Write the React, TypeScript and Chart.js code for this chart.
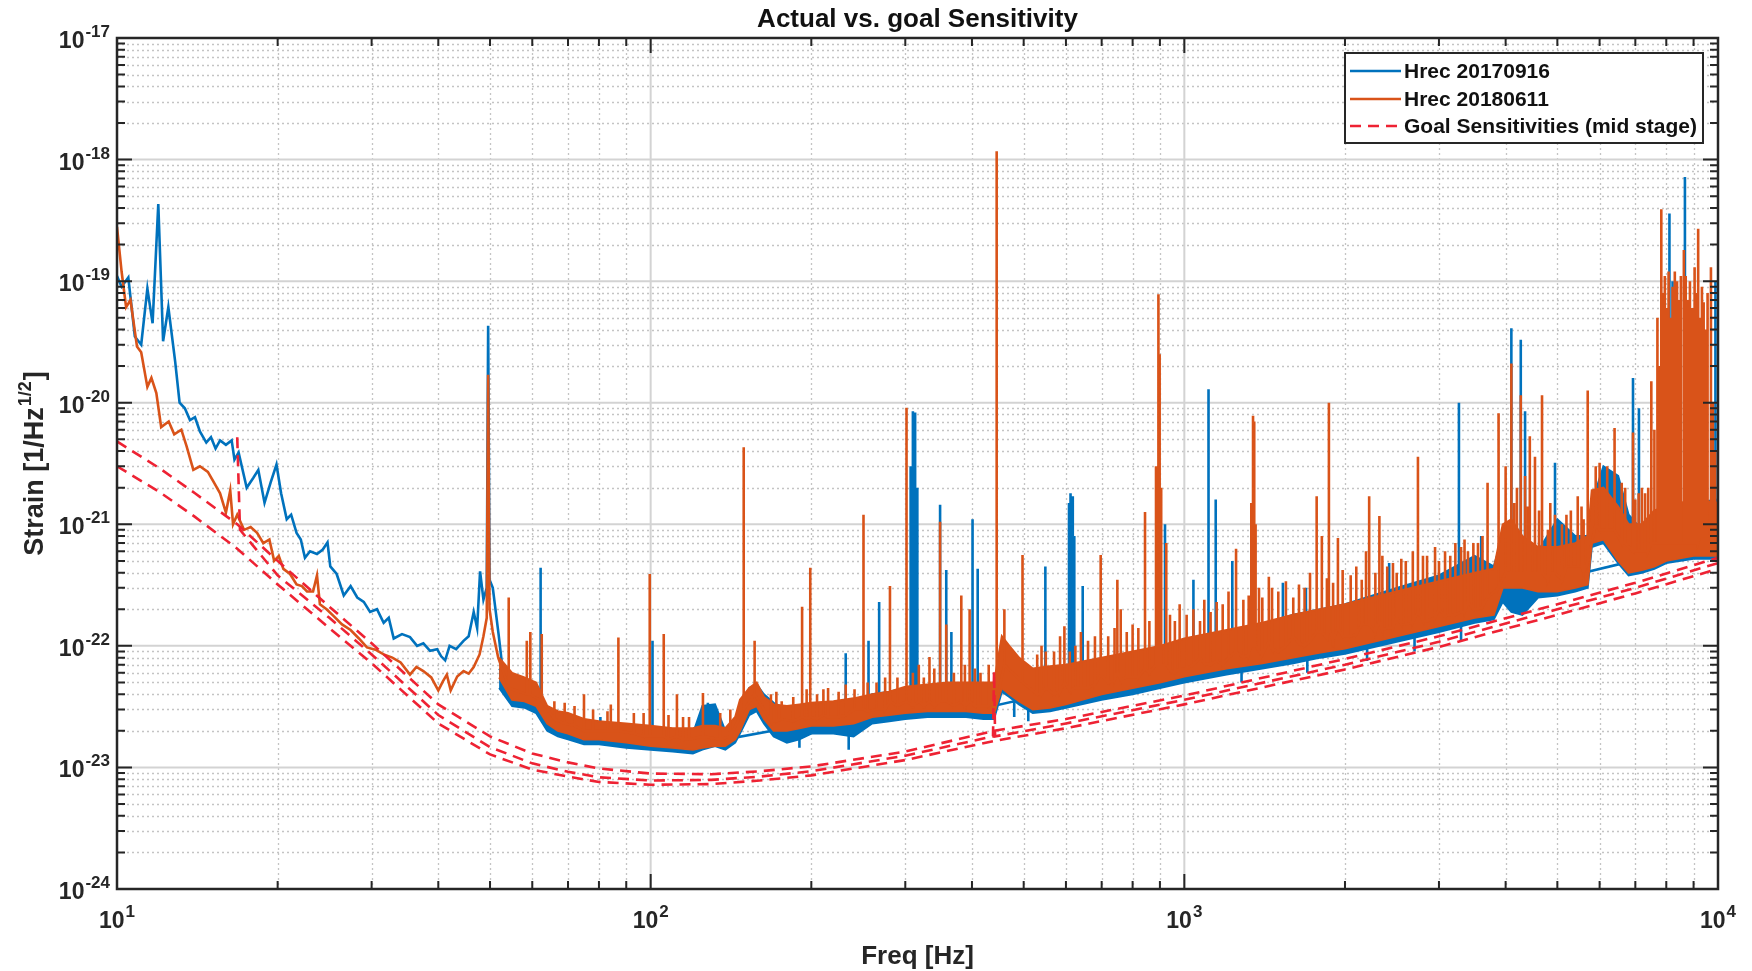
import React, { useEffect, useRef } from "react";
import { Chart, registerables } from "chart.js";

Chart.register(...registerables);

const BLUE = "#0072BD";
const ORANGE = "#D95319";
const RED = "#EE2233";
const AXIS = "#262626";
const FONT = "'Liberation Sans', Arial, Helvetica, sans-serif";

const titleText = "Actual vs. goal Sensitivity";
const xTitle = "Freq [Hz]";
const yTitleMain = "Strain [1/Hz";
const yTitleSup = "1/2";
const yTitleEnd = "]";
const legendLabels = ["Hrec 20170916", "Hrec 20180611", "Goal Sensitivities (mid stage)"];

const xMajorTicks = [10, 100, 1000, 10000];
const xTickExponents = ["1", "2", "3", "4"];
const yMajorTicks = [1e-24, 1e-23, 1e-22, 1e-21, 1e-20, 1e-19, 1e-18, 1e-17];
const yTickExponents = ["-24", "-23", "-22", "-21", "-20", "-19", "-18", "-17"];
const minorMultipliers = [2, 3, 4, 5, 6, 7, 8, 9];

// Hrec 20170916, low-frequency trace [Hz, strain]
const blueLow: [number, number][] = [
  [10.0, 1.1e-19], [10.2, 9.0e-20], [10.5, 1.07e-19], [10.8, 3.5e-20], [11.1, 3.0e-20], [11.4, 8.7e-20],
  [11.66, 4.5e-20], [11.95, 4.3e-19], [12.2, 3.2e-20], [12.48, 6.1e-20], [12.85, 2.2e-20], [13.1, 1.0e-20],
  [13.4, 9.0e-21], [13.7, 7.2e-21], [14.0, 7.6e-21], [14.3, 5.8e-21], [14.7, 4.7e-21], [15.0, 5.2e-21],
  [15.3, 4.2e-21], [15.6, 4.9e-21], [16.0, 4.5e-21], [16.4, 4.9e-21], [16.6, 3.4e-21], [16.9, 3.9e-21],
  [17.5, 2.0e-21], [18.0, 2.4e-21], [18.4, 2.8e-21], [18.9, 1.5e-21], [19.4, 2.2e-21], [19.9, 3.1e-21],
  [20.3, 1.8e-21], [20.8, 1.1e-21], [21.2, 1.2e-21], [21.7, 8.5e-22], [22.1, 7.5e-22], [22.5, 5.3e-22],
  [23.0, 6.0e-22], [23.7, 5.7e-22], [24.3, 6.2e-22], [24.8, 7.1e-22], [25.1, 4.5e-22], [25.8, 3.9e-22],
  [26.6, 2.6e-22], [27.4, 3.1e-22], [28.2, 2.5e-22], [29.0, 2.3e-22], [29.8, 1.9e-22], [30.7, 2.0e-22],
  [31.6, 1.55e-22], [32.3, 1.7e-22], [33.0, 1.15e-22], [34.2, 1.25e-22], [35.4, 1.18e-22], [36.5, 1.0e-22],
  [37.5, 1.05e-22], [38.6, 9.1e-23], [39.8, 9.4e-23], [40.5, 8.2e-23], [41.2, 7.6e-23], [42.0, 1.0e-22],
  [43.2, 9.4e-23], [44.6, 1.1e-22], [45.6, 1.2e-22], [46.6, 1.9e-22], [47.3, 1.4e-22], [47.9, 4.1e-22],
  [48.6, 2.4e-22], [49.3, 3.0e-22], [49.6, 4.3e-20], [49.9, 3.5e-22], [50.6, 3.0e-22], [51.9, 1.23e-22],
  [53.0, 5.5e-23],
];

// Hrec 20180611, low-frequency trace [Hz, strain]
const orangeLow: [number, number][] = [
  [10.0, 2.8e-19], [10.2, 1.2e-19], [10.4, 6.1e-20], [10.6, 7.0e-20], [10.9, 2.9e-20], [11.1, 2.6e-20],
  [11.4, 1.35e-20], [11.6, 1.6e-20], [11.85, 1.2e-20], [12.1, 6.3e-21], [12.5, 7.0e-21], [12.8, 5.5e-21],
  [13.2, 6.0e-21], [13.5, 4.4e-21], [13.9, 2.8e-21], [14.3, 3.0e-21], [14.8, 2.7e-21], [15.2, 2.2e-21],
  [15.6, 1.8e-21], [16.0, 1.25e-21], [16.3, 1.9e-21], [16.5, 1.0e-21], [16.8, 1.2e-21], [17.3, 9.0e-22],
  [17.8, 9.5e-22], [18.3, 8.5e-22], [18.8, 7.0e-22], [19.3, 7.5e-22], [19.7, 5.0e-22], [20.1, 5.5e-22],
  [20.5, 4.3e-22], [21.1, 3.9e-22], [21.7, 3.2e-22], [22.2, 3.1e-22], [22.7, 2.8e-22], [23.3, 2.8e-22],
  [23.7, 3.8e-22], [24.0, 2.2e-22], [24.7, 2.0e-22], [25.5, 1.75e-22], [26.4, 1.5e-22], [27.4, 1.35e-22],
  [28.4, 1.15e-22], [29.4, 9.7e-23], [30.5, 9.3e-23], [31.6, 8.5e-23], [32.8, 8.0e-23], [34.0, 7.3e-23],
  [35.4, 5.8e-23], [36.4, 6.7e-23], [37.5, 6.2e-23], [38.8, 5.5e-23], [40.0, 4.3e-23], [40.8, 5.1e-23],
  [41.5, 5.8e-23], [42.2, 4.3e-23], [43.4, 5.6e-23], [44.6, 6.2e-23], [45.6, 5.9e-23], [46.6, 6.7e-23],
  [47.8, 8.5e-23], [48.6, 1.2e-22], [49.3, 1.7e-22], [49.6, 1.7e-20], [49.9, 2.0e-22], [50.6, 1.3e-22],
  [51.8, 8.0e-23], [53.0, 6.0e-23],
];

// strong spectral lines: [Hz, floor, peak]
const orangeSpikes: [number, number, number][] = [
  [54.2, 4.5e-23, 2.5e-22], [58.6, 4.0e-23, 1.1e-22], [59.5, 4.0e-23, 1.3e-22], [62.5, 3.5e-23, 1.25e-22],
  [75, 2.0e-23, 4.0e-23], [84.2, 2.0e-23, 3.3e-23], [87.0, 2.0e-23, 1.17e-22], [99.6, 1.8e-23, 3.9e-22],
  [105.8, 1.8e-23, 1.25e-22], [112, 1.8e-23, 4.0e-23], [125.3, 1.8e-23, 4.1e-23], [149.4, 3.0e-23, 4.3e-21],
  [156.6, 4.0e-23, 1.1e-22], [176, 2.5e-23, 3.5e-23], [192.2, 2.6e-23, 2.1e-22], [199.1, 2.6e-23, 4.4e-22],
  [210.7, 2.7e-23, 4.4e-23], [241, 3.0e-23, 4.4e-23], [250.5, 3.0e-23, 1.2e-21], [280.8, 3.5e-23, 3.1e-22],
  [301.6, 3.5e-23, 9.1e-21], [318, 3.5e-23, 7.0e-23], [333, 3.5e-23, 8.1e-23], [348.6, 3.5e-23, 1.05e-21],
  [358, 3.5e-23, 1.5e-22], [382, 3.5e-23, 2.6e-22], [396, 3.5e-23, 2.0e-22], [445, 3.5e-23, 1.17e-18],
  [460, 7.0e-23, 2.0e-22], [497.5, 5.0e-23, 5.6e-22], [550, 4.5e-23, 9.0e-23], [596, 5.0e-23, 1.45e-22],
  [697, 5.8e-23, 5.6e-22], [749, 6.0e-23, 3.5e-22], [844, 6.5e-23, 1.26e-21], [885, 7.0e-23, 3.0e-21],
  [893, 7.0e-23, 2.8e-20], [895, 7.0e-23, 7.8e-20], [899, 7.0e-23, 2.5e-20], [905, 7.0e-23, 2.0e-21],
  [925, 7.0e-23, 7.0e-22], [1070, 8.0e-23, 1.6e-22], [1250, 9.0e-23, 6.3e-22], [1335, 1.0e-22, 1.5e-21],
  [1345, 1.0e-22, 7.8e-21], [1352, 1.0e-22, 7.0e-21], [1360, 1.0e-22, 1.0e-21], [1440, 1.1e-22, 3.7e-22],
  [1600, 1.2e-22, 2.5e-22], [1770, 1.3e-22, 1.7e-21], [1810, 1.3e-22, 8.0e-22], [1866, 1.4e-22, 1.0e-20],
  [1940, 1.4e-22, 7.7e-22], [2150, 1.5e-22, 3.5e-22], [2190, 1.5e-22, 6.0e-22], [2220, 1.5e-22, 1.7e-21],
  [2320, 1.6e-22, 1.17e-21], [2500, 1.7e-22, 4.0e-22], [2740, 1.9e-22, 3.6e-21], [3000, 2.0e-22, 5.0e-22],
  [3400, 2.3e-22, 6.0e-22], [3700, 2.5e-22, 2.2e-21], [3880, 3.0e-22, 8.2e-21], [4000, 4.0e-22, 3.0e-21],
  [4100, 4.0e-22, 2.1e-20], [4200, 4.0e-22, 2.0e-21], [4270, 4.0e-22, 1.15e-20], [4350, 4.0e-22, 2.5e-21],
  [4440, 4.0e-22, 5.3e-21], [4540, 4.0e-22, 3.6e-21], [4680, 4.0e-22, 1.15e-20], [4850, 4.0e-22, 1.5e-21],
  [5200, 4.5e-22, 1.2e-21], [5460, 4.5e-22, 1.7e-21], [5700, 5.0e-22, 1.26e-20], [5900, 1.0e-21, 3.0e-21],
  [6400, 9.0e-22, 6.2e-21], [6700, 7.0e-22, 2.0e-21], [6930, 6.0e-22, 5.7e-21], [7200, 6.0e-22, 2.0e-21],
  [7400, 6.0e-22, 2.0e-21], [7500, 7.0e-22, 1.5e-20], [7600, 7.0e-22, 6.0e-21], [7700, 7.0e-22, 5.0e-20],
  [7770, 7.0e-22, 2.0e-20], [7830, 7.0e-22, 3.9e-19], [7890, 7.0e-22, 8.0e-20], [7950, 7.0e-22, 1.1e-19],
  [8010, 7.0e-22, 6.0e-20], [8080, 7.0e-22, 1.2e-19], [8150, 7.0e-22, 5.0e-20], [8220, 7.0e-22, 9.0e-20],
  [8300, 7.0e-22, 1.2e-19], [8380, 7.0e-22, 1.0e-19], [8450, 7.0e-22, 7.0e-20], [8520, 7.0e-22, 1.1e-19],
  [8630, 7.0e-22, 1.8e-19], [8700, 7.0e-22, 1.1e-19], [8780, 7.0e-22, 7.0e-20], [8860, 7.0e-22, 1.0e-19],
  [8950, 7.0e-22, 6.0e-20], [9040, 7.0e-22, 1.3e-19], [9110, 7.0e-22, 8.0e-20], [9180, 7.0e-22, 2.7e-19],
  [9260, 8.0e-22, 5.0e-20], [9330, 8.0e-22, 9.0e-20], [9400, 8.0e-22, 6.7e-20], [9480, 8.0e-22, 4.0e-20],
  [9560, 8.0e-22, 8.0e-20], [9700, 8.0e-22, 1.3e-19], [9780, 8.0e-22, 1.0e-20], [9880, 8.0e-22, 4.0e-21],
  [10000, 8.0e-22, 1.5e-21],
];

// small lines riding on the noise floor: [Hz, floor, peak]
const orangeMinorLines: [number, number, number][] = [
  [66, 2.5e-23, 3.5e-23], [69, 2.3e-23, 3.4e-23], [72, 2.2e-23, 3.2e-23], [78, 2.0e-23, 3.0e-23],
  [83, 2.0e-23, 2.9e-23], [93, 1.9e-23, 2.8e-23], [97, 1.8e-23, 2.8e-23], [108, 1.7e-23, 2.7e-23],
  [115, 1.7e-23, 2.6e-23], [118, 1.7e-23, 2.6e-23], [135, 1.7e-23, 2.8e-23], [141, 1.8e-23, 3.0e-23],
  [168, 2.4e-23, 4.0e-23], [172, 2.4e-23, 4.2e-23], [185, 2.4e-23, 3.8e-23], [196, 2.5e-23, 4.4e-23],
  [205, 2.5e-23, 4.0e-23], [215, 2.6e-23, 4.5e-23], [225, 2.6e-23, 4.2e-23], [232, 2.7e-23, 4.8e-23],
  [255, 2.9e-23, 5.0e-23], [265, 3.0e-23, 5.0e-23], [275, 3.0e-23, 5.5e-23], [290, 3.2e-23, 5.5e-23],
  [310, 3.2e-23, 6.0e-23], [325, 3.2e-23, 5.5e-23], [340, 3.2e-23, 6.5e-23], [370, 3.2e-23, 6.0e-23],
  [388, 3.2e-23, 7.0e-23], [405, 3.2e-23, 6.5e-23], [415, 3.2e-23, 6.0e-23], [430, 3.2e-23, 7.0e-23],
  [530, 4.0e-23, 8.5e-23], [540, 4.0e-23, 1.0e-22], [570, 4.0e-23, 9.0e-23], [585, 4.2e-23, 1.2e-22],
  [610, 4.3e-23, 9.0e-23], [625, 4.5e-23, 1.0e-22], [640, 4.5e-23, 1.3e-22], [660, 4.5e-23, 1.1e-22],
  [680, 4.8e-23, 1.2e-22], [720, 5.0e-23, 1.2e-22], [740, 5.2e-23, 1.4e-22], [760, 5.3e-23, 2.0e-22],
  [780, 5.5e-23, 1.3e-22], [800, 5.5e-23, 1.5e-22], [820, 5.5e-23, 1.4e-22], [860, 6.0e-23, 1.6e-22],
  [940, 6.3e-23, 1.8e-22], [960, 6.0e-23, 1.6e-22], [980, 6.5e-23, 2.2e-22], [1010, 6.5e-23, 1.8e-22],
  [1040, 7.0e-23, 2.0e-22], [1090, 7.2e-23, 2.4e-22], [1120, 7.0e-23, 1.9e-22], [1150, 7.5e-23, 2.3e-22],
  [1180, 7.0e-23, 2.2e-22], [1210, 8.0e-23, 2.8e-22], [1290, 8.0e-23, 2.4e-22], [1320, 8.5e-23, 2.6e-22],
  [1380, 9.0e-23, 3.0e-22], [1400, 8.5e-23, 2.5e-22], [1460, 9.5e-23, 3.0e-22], [1500, 9.0e-23, 2.8e-22],
  [1550, 1.0e-22, 3.4e-22], [1640, 1.05e-22, 3.2e-22], [1680, 1.0e-22, 3.0e-22], [1720, 1.1e-22, 4.0e-22],
  [1850, 1.15e-22, 3.6e-22], [1900, 1.1e-22, 3.3e-22], [1980, 1.2e-22, 4.2e-22], [2050, 1.2e-22, 3.8e-22],
  [2100, 1.25e-22, 4.5e-22], [2280, 1.3e-22, 4.0e-22], [2350, 1.35e-22, 5.5e-22], [2400, 1.4e-22, 4.5e-22],
  [2460, 1.4e-22, 4.8e-22], [2550, 1.5e-22, 5.2e-22], [2600, 1.5e-22, 5.0e-22], [2680, 1.55e-22, 6.0e-22],
  [2800, 1.6e-22, 5.5e-22], [2850, 1.6e-22, 5.5e-22], [2950, 1.7e-22, 6.5e-22], [3080, 1.75e-22, 6.0e-22],
  [3150, 1.8e-22, 5.5e-22], [3220, 1.8e-22, 7.0e-22], [3300, 1.9e-22, 6.5e-22], [3350, 1.9e-22, 7.5e-22],
  [3480, 2.0e-22, 7.0e-22], [3550, 2.0e-22, 7.0e-22], [3620, 2.1e-22, 8.0e-22], [4150, 4.0e-22, 1.5e-21],
  [4400, 4.0e-22, 1.4e-21], [4620, 4.0e-22, 1.3e-21], [4800, 3.5e-22, 9.0e-22], [4950, 4.0e-22, 1.2e-21],
  [5100, 3.5e-22, 1.0e-21], [5300, 4.5e-22, 1.3e-21], [5550, 4.5e-22, 1.4e-21], [5600, 4.0e-22, 1.1e-21],
  [6000, 9.0e-22, 3.2e-21], [6200, 9.0e-22, 3.0e-21], [6600, 7.0e-22, 2.2e-21], [7000, 6.0e-22, 1.6e-21],
  [7100, 6.0e-22, 1.8e-21], [7300, 6.0e-22, 1.8e-21],
];

const blueSpikes: [number, number, number][] = [
  [62.2, 2.8e-23, 4.4e-22], [80.5, 1.6e-23, 2.6e-23], [100.8, 1.5e-23, 1.1e-22], [128, 1.6e-23, 3.4e-23],
  [190, 2.2e-23, 1.45e-23], [232, 2.2e-23, 8.7e-23], [235, 2.2e-23, 1.4e-23], [256, 2.5e-23, 1.1e-22],
  [268, 2.5e-23, 2.3e-22], [307, 3.0e-23, 3.0e-21], [310, 3.0e-23, 8.5e-21], [313, 3.0e-23, 8.3e-21],
  [316, 3.0e-23, 2.0e-21], [348.6, 3.0e-23, 1.45e-21], [358, 3.0e-23, 4.2e-22], [366, 3.0e-23, 1.3e-22],
  [401, 3.0e-23, 1.1e-21], [410, 3.0e-23, 4.3e-22], [480, 3.5e-23, 2.6e-23], [510, 3.5e-23, 2.4e-23],
  [549, 3.5e-23, 4.5e-22], [608, 4.0e-23, 1.5e-21], [612, 4.0e-23, 1.8e-21], [618, 4.0e-23, 1.7e-21],
  [622, 4.0e-23, 8.0e-22], [645, 4.0e-23, 3.1e-22], [920, 6.0e-23, 1.0e-21], [1040, 6.0e-23, 3.5e-22],
  [1110, 7.0e-23, 1.29e-20], [1145, 7.0e-23, 1.6e-21], [1230, 8.0e-23, 5.0e-22], [1280, 7.0e-23, 5.0e-23],
  [1530, 1.0e-22, 3.3e-22], [1690, 1.1e-22, 3.0e-22], [1700, 8.5e-23, 6.0e-23], [2200, 1.1e-22, 7.5e-23],
  [2420, 1.5e-22, 4.8e-22], [2700, 1.3e-22, 9.0e-23], [3270, 2.0e-22, 1.0e-20], [3300, 1.6e-22, 1.1e-22],
  [3600, 2.2e-22, 8.0e-22], [4100, 3.0e-22, 4.1e-20], [4270, 3.0e-22, 3.3e-20], [4350, 3.0e-22, 8.5e-21],
  [4950, 3.5e-22, 3.2e-21], [6930, 5.0e-22, 1.6e-20], [7110, 5.0e-22, 9.0e-21], [8110, 6.0e-22, 3.6e-19],
  [8220, 6.0e-22, 1.0e-19], [8670, 6.0e-22, 7.2e-19], [9890, 7.0e-22, 1.0e-19],
];

// dense noise floor, upper and lower envelopes
const bandFreq = [
  52, 55, 58, 61, 64, 67, 70, 75, 80, 90, 100, 110, 120, 125, 132, 138, 144, 147, 153, 158,
  163, 170, 180, 190, 200, 220, 240, 260, 280, 300, 330, 360, 390, 420, 440, 455, 470, 490, 520, 560,
  600, 700, 800, 900, 1000, 1200, 1400, 1600, 1800, 2000, 2500, 3000, 3500, 3800, 3950, 4100, 4300, 4600, 5000, 5400,
  5700, 5800, 6100, 6500, 6800, 7200, 7600, 8000, 9000, 10000,
];
const orangeHi = [
  8.0e-23, 6.0e-23, 5.5e-23, 5.0e-23, 3.2e-23, 2.9e-23, 2.8e-23, 2.5e-23, 2.4e-23, 2.3e-23,
  2.2e-23, 2.1e-23, 2.1e-23, 2.2e-23, 2.2e-23, 2.1e-23, 2.6e-23, 3.6e-23, 4.5e-23, 5.0e-23,
  3.8e-23, 3.3e-23, 3.2e-23, 3.3e-23, 3.4e-23, 3.5e-23, 3.7e-23, 4.0e-23, 4.2e-23, 4.6e-23,
  4.8e-23, 5.0e-23, 5.0e-23, 5.0e-23, 5.0e-23, 1.2e-22, 1.0e-22, 8.0e-23, 6.5e-23, 6.8e-23,
  7.0e-23, 8.0e-23, 9.0e-23, 1.0e-22, 1.15e-22, 1.35e-22, 1.55e-22, 1.8e-22, 2.0e-22, 2.2e-22,
  2.8e-22, 3.4e-22, 4.0e-22, 4.3e-22, 1.0e-21, 1.1e-21, 8.0e-22, 6.5e-22, 6.5e-22, 7.0e-22,
  8.0e-22, 1.9e-21, 2.0e-21, 1.4e-21, 1.0e-21, 1.0e-21, 1.3e-21, 1.4e-21, 1.6e-21, 1.5e-21,
];
const orangeLo = [
  5.5e-23, 3.6e-23, 3.5e-23, 3.2e-23, 2.3e-23, 2.0e-23, 1.9e-23, 1.7e-23, 1.7e-23, 1.6e-23,
  1.5e-23, 1.45e-23, 1.4e-23, 1.45e-23, 1.5e-23, 1.5e-23, 1.7e-23, 2.0e-23, 3.0e-23, 3.2e-23,
  2.5e-23, 2.0e-23, 2.0e-23, 2.1e-23, 2.2e-23, 2.2e-23, 2.3e-23, 2.6e-23, 2.7e-23, 2.8e-23,
  2.9e-23, 2.9e-23, 2.9e-23, 2.8e-23, 2.8e-23, 4.5e-23, 4.0e-23, 3.5e-23, 3.0e-23, 3.1e-23,
  3.3e-23, 4.0e-23, 4.5e-23, 5.0e-23, 5.6e-23, 6.5e-23, 7.2e-23, 8.0e-23, 8.8e-23, 9.5e-23,
  1.2e-22, 1.45e-22, 1.7e-22, 1.8e-22, 3.0e-22, 3.0e-22, 3.0e-22, 2.8e-22, 2.8e-22, 3.0e-22,
  3.2e-22, 7.0e-22, 7.5e-22, 5.0e-22, 4.0e-22, 4.2e-22, 4.5e-22, 5.0e-22, 5.5e-22, 5.5e-22,
];
const blueHi = [
  6.5e-23, 4.5e-23, 4.2e-23, 4.0e-23, 3.0e-23, 2.8e-23, 2.6e-23, 2.3e-23, 2.2e-23, 2.1e-23,
  2.0e-23, 1.9e-23, 1.9e-23, 3.2e-23, 3.3e-23, 2.0e-23, 2.4e-23, 3.0e-23, 4.5e-23, 4.8e-23,
  4.0e-23, 3.4e-23, 3.0e-23, 3.0e-23, 3.0e-23, 3.2e-23, 3.4e-23, 4.0e-23, 4.2e-23, 4.5e-23,
  4.6e-23, 4.8e-23, 4.8e-23, 4.6e-23, 4.6e-23, 1.1e-22, 9.0e-23, 7.5e-23, 6.0e-23, 6.0e-23,
  6.5e-23, 7.5e-23, 8.5e-23, 9.5e-23, 1.1e-22, 1.3e-22, 1.5e-22, 1.8e-22, 2.0e-22, 2.2e-22,
  3.0e-22, 3.8e-22, 5.5e-22, 4.5e-22, 8.0e-22, 7.0e-22, 6.0e-22, 6.0e-22, 1.1e-21, 8.0e-22,
  8.0e-22, 1.5e-21, 3.0e-21, 2.5e-21, 1.2e-21, 9.0e-22, 1.0e-21, 1.2e-21, 1.5e-21, 1.6e-21,
];
const blueLo = [
  4.5e-23, 3.2e-23, 3.1e-23, 2.8e-23, 2.0e-23, 1.8e-23, 1.7e-23, 1.55e-23, 1.55e-23, 1.45e-23,
  1.4e-23, 1.35e-23, 1.3e-23, 1.4e-23, 1.5e-23, 1.4e-23, 1.6e-23, 1.9e-23, 2.7e-23, 2.9e-23,
  2.3e-23, 1.8e-23, 1.6e-23, 1.7e-23, 1.9e-23, 1.9e-23, 1.8e-23, 2.3e-23, 2.4e-23, 2.5e-23,
  2.6e-23, 2.6e-23, 2.6e-23, 2.5e-23, 2.5e-23, 4.2e-23, 3.8e-23, 3.3e-23, 2.8e-23, 2.9e-23,
  3.1e-23, 3.6e-23, 4.0e-23, 4.5e-23, 5.0e-23, 5.8e-23, 6.5e-23, 7.2e-23, 8.0e-23, 8.6e-23,
  1.08e-22, 1.3e-22, 1.55e-22, 1.65e-22, 2.3e-22, 1.9e-22, 1.8e-22, 2.5e-22, 2.6e-22, 2.8e-22,
  3.0e-22, 6.5e-22, 7.0e-22, 4.8e-22, 3.8e-22, 4.0e-22, 4.3e-22, 4.8e-22, 5.2e-22, 5.2e-22,
];

// goal sensitivity curves (mid stage)
const goalA: [number, number][] = [
  [10, 4.8e-21], [12, 2.9e-21], [14, 1.8e-21], [16.8, 1.0e-21], [20, 5.0e-22], [25, 2.1e-22], [30, 1.05e-22],
  [40, 3.3e-23], [50, 1.8e-23], [60, 1.3e-23], [70, 1.1e-23], [80, 9.8e-24], [100, 8.9e-24], [130, 8.8e-24],
  [160, 9.3e-24], [200, 1.02e-23], [300, 1.35e-23], [440, 2.0e-23], [600, 2.5e-23], [1000, 3.9e-23],
  [2000, 7.8e-23], [3000, 1.2e-22], [5000, 2.2e-22], [7000, 3.3e-22], [10000, 5.3e-22],
];
const goalB: [number, number][] = [
  [10, 3.0e-21], [12, 1.85e-21], [14, 1.15e-21], [16.8, 6.3e-22], [20, 3.2e-22], [25, 1.4e-22], [30, 7.2e-23],
  [40, 2.3e-23], [50, 1.28e-23], [60, 9.6e-24], [70, 8.4e-24], [80, 7.6e-24], [100, 7.2e-24], [130, 7.3e-24],
  [160, 7.8e-24], [200, 8.6e-24], [300, 1.15e-23], [440, 1.65e-23], [600, 2.1e-23], [1000, 3.3e-23],
  [2000, 6.4e-23], [3000, 9.8e-23], [5000, 1.8e-22], [7000, 2.7e-22], [10000, 4.3e-22],
];
const goalC: [number, number][] = [
  [16.8, 5.2e-21], [17.0, 9.0e-22], [20, 3.8e-22], [25, 1.7e-22], [30, 8.5e-23], [40, 2.7e-23], [50, 1.47e-23],
  [60, 1.08e-23], [70, 9.2e-24], [80, 8.3e-24], [100, 7.8e-24], [130, 7.9e-24], [160, 8.4e-24], [200, 9.3e-24],
  [300, 1.25e-23], [438, 1.8e-23], [440, 6.2e-23], [442, 1.8e-23], [600, 2.3e-23], [1000, 3.6e-23],
  [2000, 7.0e-23], [3000, 1.08e-22], [5000, 2.0e-22], [7000, 3.0e-22], [10000, 4.8e-22],
];

const pts = (a: [number, number][]) => a.map(([x, y]) => ({ x, y }));
const spikePts = (a: [number, number, number][]) =>
  [...a].sort((p, q) => p[0] - q[0]).flatMap(([f, b, p]) => [{ x: f, y: b }, { x: f, y: p }, { x: f, y: b }]);
const bandPts = (vals: number[]) => bandFreq.map((f, i) => ({ x: f, y: vals[i] }));

function drawPow(ctx: CanvasRenderingContext2D, exp: string, x: number, yBase: number, ySup: number, align: "center" | "right") {
  const big = `bold 23px ${FONT}`;
  const small = `bold 17px ${FONT}`;
  ctx.font = big;
  const w1 = ctx.measureText("10").width;
  ctx.font = small;
  const w2 = ctx.measureText(exp).width;
  const total = w1 + w2 + 1;
  const start = align === "center" ? x - total / 2 : x - total;
  ctx.textAlign = "left";
  ctx.textBaseline = "alphabetic";
  ctx.font = big;
  ctx.fillText("10", start, yBase);
  ctx.font = small;
  ctx.fillText(exp, start + w1 + 1, ySup);
}

const matlabAxes = {
  id: "matlabAxes",
  beforeDraw(chart: any) {
    const { ctx, width, height } = chart;
    ctx.save();
    ctx.fillStyle = "#ffffff";
    ctx.fillRect(0, 0, width, height);
    ctx.restore();
  },
  beforeDatasetsDraw(chart: any) {
    const { ctx, chartArea } = chart;
    const { left, right, top, bottom } = chartArea;
    const xs = chart.scales.x;
    const ys = chart.scales.y;
    ctx.save();
    ctx.beginPath();
    ctx.rect(left, top, right - left, bottom - top);
    ctx.clip();
    ctx.strokeStyle = "#c4c4c4";
    ctx.lineWidth = 1.3;
    ctx.setLineDash([2, 3]);
    for (let i = 0; i < xMajorTicks.length - 1; i++) {
      for (const m of minorMultipliers) {
        const px = Math.round(xs.getPixelForValue(xMajorTicks[i] * m)) + 0.5;
        ctx.beginPath();
        ctx.moveTo(px, top);
        ctx.lineTo(px, bottom);
        ctx.stroke();
      }
    }
    for (let i = 0; i < yMajorTicks.length - 1; i++) {
      for (const m of minorMultipliers) {
        const py = Math.round(ys.getPixelForValue(yMajorTicks[i] * m)) + 0.5;
        ctx.beginPath();
        ctx.moveTo(left, py);
        ctx.lineTo(right, py);
        ctx.stroke();
      }
    }
    ctx.setLineDash([]);
    ctx.strokeStyle = "#d3d3d3";
    ctx.lineWidth = 2;
    for (const v of xMajorTicks) {
      const px = xs.getPixelForValue(v);
      ctx.beginPath();
      ctx.moveTo(px, top);
      ctx.lineTo(px, bottom);
      ctx.stroke();
    }
    for (const v of yMajorTicks) {
      const py = ys.getPixelForValue(v);
      ctx.beginPath();
      ctx.moveTo(left, py);
      ctx.lineTo(right, py);
      ctx.stroke();
    }
    ctx.restore();
  },
  afterDatasetsDraw(chart: any) {
    const { ctx, chartArea } = chart;
    const { left, right, top, bottom } = chartArea;
    const xs = chart.scales.x;
    const ys = chart.scales.y;
    ctx.save();
    ctx.strokeStyle = AXIS;
    ctx.lineWidth = 2;
    const majorLen = 15;
    const minorLen = 8;
    const tickX = (v: number, len: number) => {
      const px = xs.getPixelForValue(v);
      ctx.beginPath();
      ctx.moveTo(px, bottom);
      ctx.lineTo(px, bottom - len);
      ctx.moveTo(px, top);
      ctx.lineTo(px, top + len);
      ctx.stroke();
    };
    const tickY = (v: number, len: number) => {
      const py = ys.getPixelForValue(v);
      ctx.beginPath();
      ctx.moveTo(left, py);
      ctx.lineTo(left + len, py);
      ctx.moveTo(right, py);
      ctx.lineTo(right - len, py);
      ctx.stroke();
    };
    for (let i = 0; i < xMajorTicks.length - 1; i++) {
      for (const m of minorMultipliers) tickX(xMajorTicks[i] * m, minorLen);
    }
    for (let i = 0; i < yMajorTicks.length - 1; i++) {
      for (const m of minorMultipliers) tickY(yMajorTicks[i] * m, minorLen);
    }
    xMajorTicks.forEach((v) => tickX(v, majorLen));
    yMajorTicks.forEach((v) => tickY(v, majorLen));
    ctx.lineWidth = 2.5;
    ctx.strokeRect(left, top, right - left, bottom - top);

    ctx.fillStyle = AXIS;
    xMajorTicks.forEach((v, i) => {
      const px = xs.getPixelForValue(v);
      drawPow(ctx, xTickExponents[i], px, bottom + 39, bottom + 28, "center");
    });
    yMajorTicks.forEach((v, i) => {
      const py = ys.getPixelForValue(v);
      drawPow(ctx, yTickExponents[i], left - 7, py + 10, py - 1, "right");
    });

    ctx.fillStyle = "#111111";
    ctx.textAlign = "center";
    ctx.textBaseline = "alphabetic";
    ctx.font = `bold 26px ${FONT}`;
    ctx.fillText(titleText, (left + right) / 2, top - 11);
    ctx.fillStyle = AXIS;
    ctx.fillText(xTitle, (left + right) / 2, bottom + 75);

    ctx.save();
    ctx.translate(left - 74, (top + bottom) / 2);
    ctx.rotate(-Math.PI / 2);
    ctx.font = `bold 27px ${FONT}`;
    const w1 = ctx.measureText(yTitleMain).width;
    const w3 = ctx.measureText(yTitleEnd).width;
    ctx.font = `bold 18px ${FONT}`;
    const w2 = ctx.measureText(yTitleSup).width;
    const total = w1 + w2 + w3 + 2;
    let sx = -total / 2;
    ctx.textAlign = "left";
    ctx.font = `bold 27px ${FONT}`;
    ctx.fillText(yTitleMain, sx, 0);
    sx += w1 + 1;
    ctx.font = `bold 18px ${FONT}`;
    ctx.fillText(yTitleSup, sx, -12);
    sx += w2 + 1;
    ctx.font = `bold 27px ${FONT}`;
    ctx.fillText(yTitleEnd, sx, 0);
    ctx.restore();

    // legend
    const boxW = 358;
    const boxH = 90;
    const bx = right - 15 - boxW;
    const by = top + 15;
    ctx.fillStyle = "#ffffff";
    ctx.fillRect(bx, by, boxW, boxH);
    ctx.strokeStyle = AXIS;
    ctx.lineWidth = 2;
    ctx.strokeRect(bx, by, boxW, boxH);
    const rows = [18, 46, 73];
    const colors = [BLUE, ORANGE, RED];
    rows.forEach((ry, i) => {
      const yy = by + ry;
      ctx.strokeStyle = colors[i];
      ctx.lineWidth = 2.6;
      ctx.setLineDash(i === 2 ? [11, 7] : []);
      ctx.beginPath();
      ctx.moveTo(bx + 5, yy);
      ctx.lineTo(bx + 56, yy);
      ctx.stroke();
      ctx.setLineDash([]);
      ctx.fillStyle = "#111111";
      ctx.font = `bold 21px ${FONT}`;
      ctx.textAlign = "left";
      ctx.textBaseline = "middle";
      ctx.fillText(legendLabels[i], bx + 59, yy + 1);
    });
    ctx.restore();
  },
};

export default function App() {
  const canvasRef = useRef<HTMLCanvasElement | null>(null);

  useEffect(() => {
    if (!canvasRef.current) return;
    const dashed = { borderColor: RED, borderWidth: 2.6, borderDash: [11, 7], pointRadius: 0, fill: false, order: 0 };
    const chart = new Chart(canvasRef.current, {
      type: "line",
      data: {
        datasets: [
          { label: "goalA", data: pts(goalA), ...dashed },
          { label: "goalB", data: pts(goalB), ...dashed },
          { label: "goalC", data: pts(goalC), ...dashed },
          {
            label: legendLabels[1],
            data: [...pts(orangeLow), ...spikePts([...orangeSpikes, ...orangeMinorLines])],
            borderColor: ORANGE, borderWidth: 2.6, pointRadius: 0, fill: false, order: 1,
          },
          {
            label: "orangeHi", data: bandPts(orangeHi), borderColor: ORANGE, backgroundColor: ORANGE,
            borderWidth: 2, pointRadius: 0, fill: 5, order: 2,
          },
          { label: "orangeLo", data: bandPts(orangeLo), borderColor: ORANGE, borderWidth: 2, pointRadius: 0, fill: false, order: 2 },
          {
            label: legendLabels[0],
            data: [...pts(blueLow), ...spikePts(blueSpikes)],
            borderColor: BLUE, borderWidth: 2.6, pointRadius: 0, fill: false, order: 3,
          },
          {
            label: "blueHi", data: bandPts(blueHi), borderColor: BLUE, backgroundColor: BLUE,
            borderWidth: 2, pointRadius: 0, fill: 8, order: 4,
          },
          { label: "blueLo", data: bandPts(blueLo), borderColor: BLUE, borderWidth: 2, pointRadius: 0, fill: false, order: 4 },
        ],
      },
      options: {
        responsive: false,
        animation: false,
        devicePixelRatio: 1,
        events: [],
        layout: { padding: { left: 117, top: 38, right: 34, bottom: 82 } },
        elements: { line: { tension: 0 }, point: { radius: 0 } },
        scales: {
          x: { type: "logarithmic", min: 10, max: 10000, display: false },
          y: { type: "logarithmic", min: 1e-24, max: 1e-17, display: false },
        },
        plugins: {
          legend: { display: false },
          title: { display: false },
          tooltip: { enabled: false },
        },
      },
      plugins: [matlabAxes],
    });
    return () => chart.destroy();
  }, []);

  return (
    <div style={{ position: "absolute", left: 0, top: 0, width: 1752, height: 971, background: "#fff" }}>
      <canvas ref={canvasRef} width={1752} height={971} style={{ width: 1752, height: 971, display: "block" }} />
    </div>
  );
}
